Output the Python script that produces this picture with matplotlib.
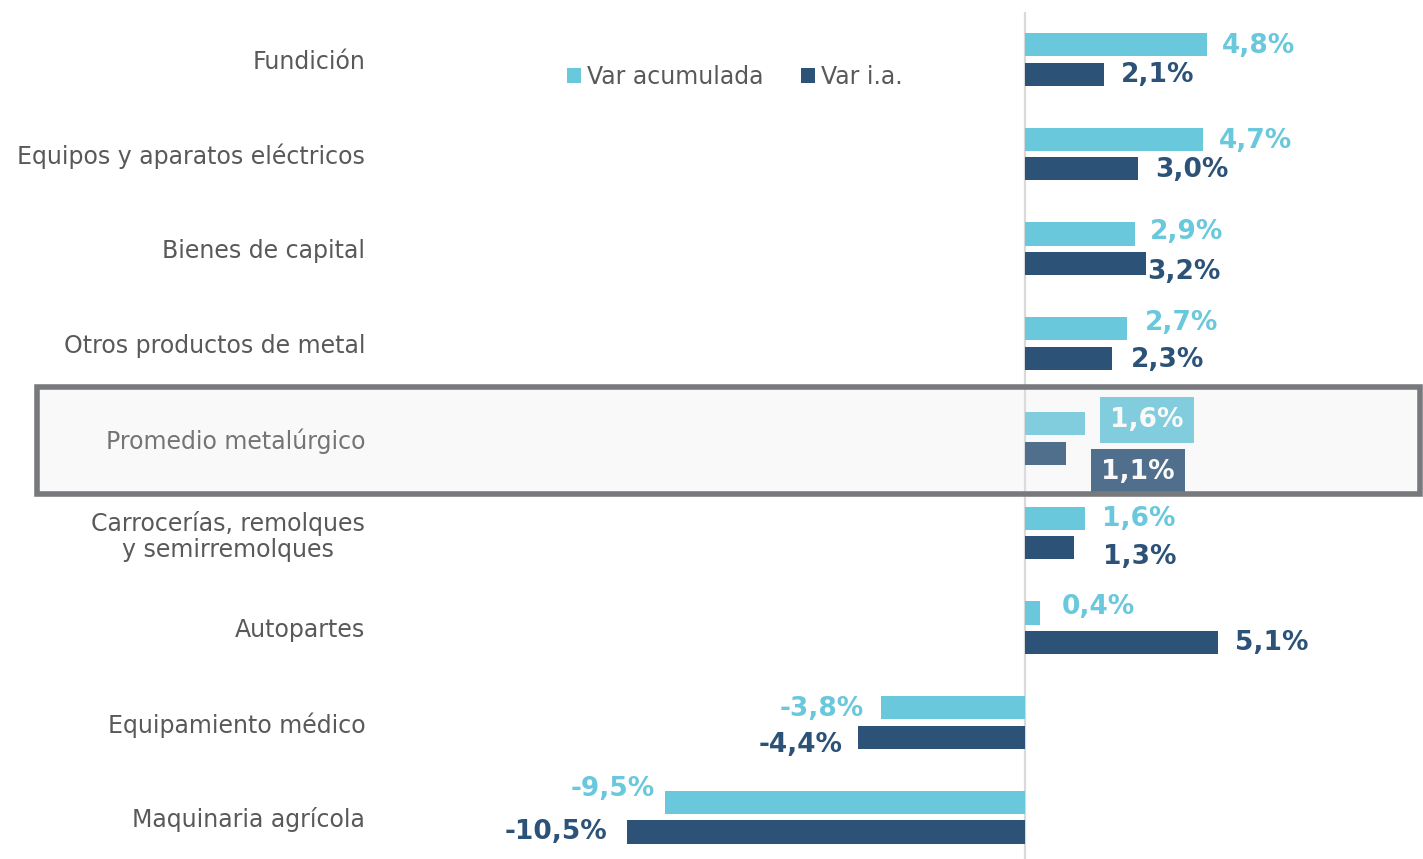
import matplotlib.pyplot as plt
import matplotlib.patches as mpatches
import numpy as np

# Data
categorias = ["Fundición", "Equipos y aparatos eléctricos", "Bienes de capital",
              "Otros productos de metal", "Promedio metalúrgico",
              "Carrocerías, remolques\ny semirremolques", "Autopartes",
              "Equipamiento médico", "Maquinaria agrícola"]
var_acumulada = [4.8, 4.7, 2.9, 2.7, 1.6, 1.6, 0.4, -3.8, -9.5]
var_ia = [2.1, 3.0, 3.2, 2.3, 1.1, 1.3, 5.1, -4.4, -10.5]

# label nudges in pixels (gap from bar end, vertical shift down)
gap_acum = [15, 16, 15, 18, 25, 17, 22, 17, 10]
gap_ia = [17, 17, 1, 19, 35, 29, 17, 16, 20]
dy_acum = [1, 1.5, -2, -6, -3.5, 1, -6, 1, -14]
dy_ia = [1, 1, 8, 2, 19, 9, 0, 8, 0]

c_light = "#69C8DC"
c_dark = "#2C5278"
c_text = "#595959"

W, H = 1423, 859
fig = plt.figure(figsize=(W / 100, H / 100), dpi=100)
ax = fig.add_axes([375 / W, 0, 1048 / W, (H - 12) / H])

y = np.arange(len(categorias))
h = 0.245
off = 0.156
ax.barh(y - off, var_acumulada, height=h, color=c_light, label="Var acumulada")
ax.barh(y + off, var_ia, height=h, color=c_dark, label="Var i.a.")

ax.set_xlim(-17.17, 10.52)
ax.set_ylim(8.44, -0.5)
ax.axvline(0, color="#d9d9d9", linewidth=1.6, zorder=0)

for s in ax.spines.values():
    s.set_visible(False)
ax.set_xticks([])
ax.set_yticks(y)
ax.set_yticklabels(categorias, fontsize=17, color=c_text, multialignment="center",
                   linespacing=1.1)
ax.tick_params(axis="y", length=0, pad=7)

def fmt(v):
    return f"{v:.1f}%".replace(".", ",")

for i in range(len(categorias)):
    for vals, gaps, dys, yy, col in [(var_acumulada, gap_acum, dy_acum, y - off, c_light),
                                      (var_ia, gap_ia, dy_ia, y + off, c_dark)]:
        v = vals[i]
        sign = 1 if v >= 0 else -1
        kw = {}
        if i == 4:
            kw["bbox"] = dict(boxstyle="square,pad=0.38", facecolor=col, edgecolor="none")
            tcol = "white"
        else:
            tcol = col
        ax.annotate(fmt(v), xy=(v, yy[i]), xytext=(sign * gaps[i], -dys[i]),
                    textcoords="offset pixels", ha="left" if sign > 0 else "right",
                    va="center", fontsize=19, fontweight="bold", color=tcol, **kw)

ax.legend(loc="center left", bbox_to_anchor=(555 / W, 1 - 77 / H),
          bbox_transform=fig.transFigure, ncol=2, frameon=False, fontsize=17,
          handlelength=0.6, handleheight=0.6, handletextpad=0.25,
          columnspacing=1.6, borderpad=0, labelcolor=c_text)

# highlight box over the average row
x0, x1, y0, y1 = 37, 1420, 386.5, 494
fig.patches.append(mpatches.Rectangle((x0 / W, 1 - y1 / H), (x1 - x0) / W, (y1 - y0) / H,
                                      transform=fig.transFigure, facecolor="#e5e5e5",
                                      alpha=0.2, edgecolor="none", zorder=10))
fig.patches.append(mpatches.Rectangle((x0 / W, 1 - y1 / H), (x1 - x0) / W, (y1 - y0) / H,
                                      transform=fig.transFigure, fill=False,
                                      edgecolor="#78797c", linewidth=4, zorder=11))

fig.savefig("out.png", dpi=100)
